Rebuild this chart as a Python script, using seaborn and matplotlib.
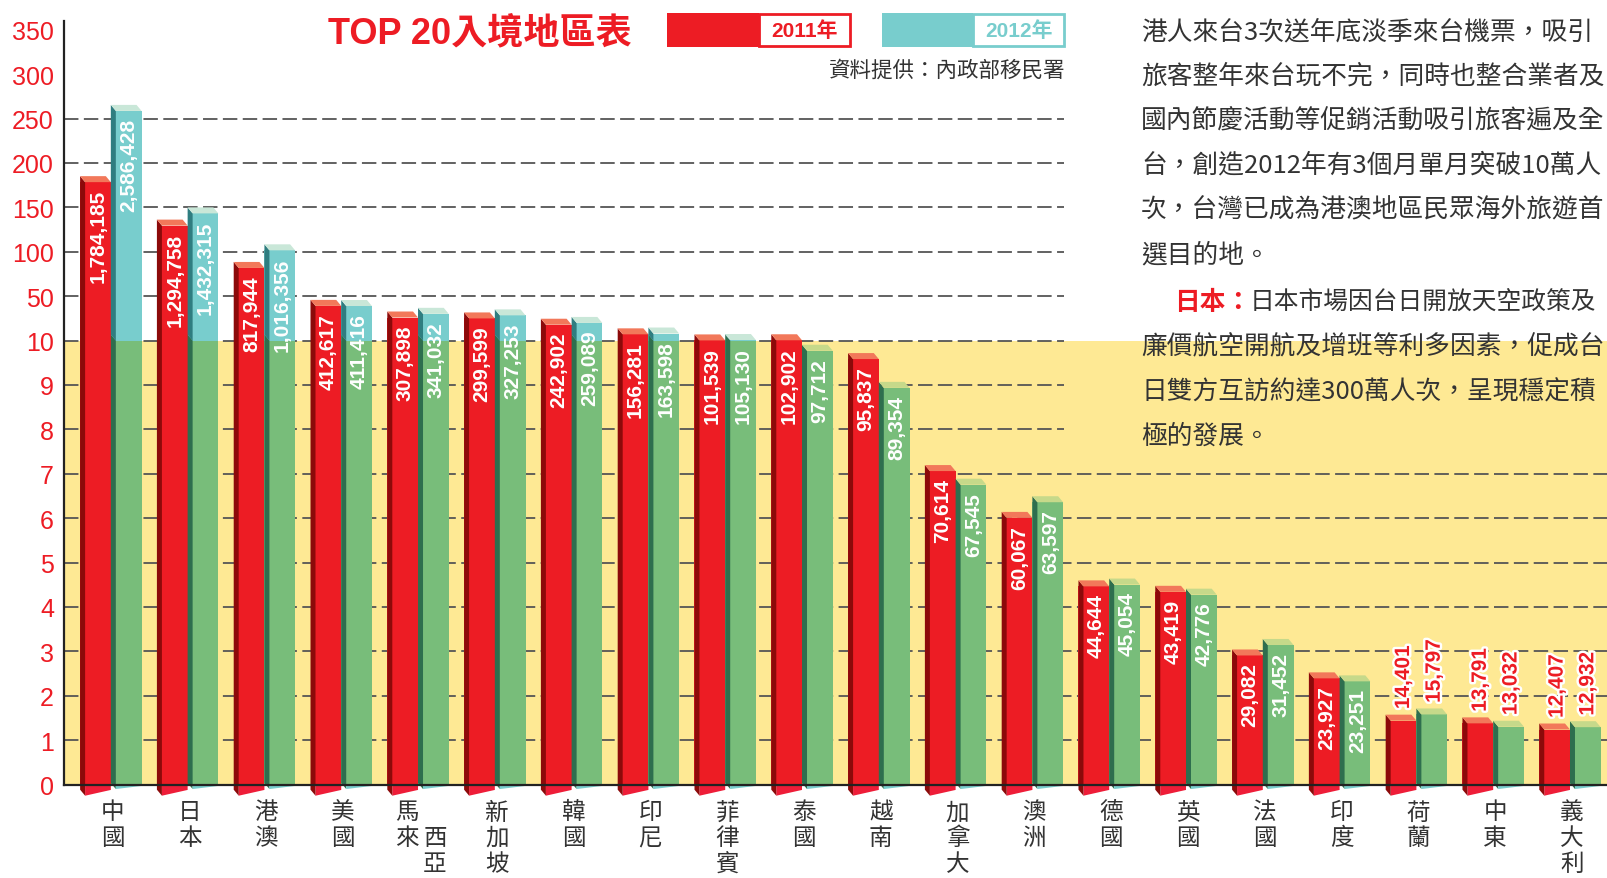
import numpy as np
import pandas as pd
import matplotlib
matplotlib.use("Agg")
import matplotlib.pyplot as plt
import seaborn as sns
from matplotlib.patches import Polygon, Rectangle
from matplotlib.ticker import NullLocator
from matplotlib import transforms as mtransforms
from matplotlib import patheffects as pe
from matplotlib import font_manager as fm

# ---------------- data ----------------
categories = ["中國", "日本", "港澳", "美國", "馬來西亞", "新加坡", "韓國", "印尼", "菲律賓", "泰國",
              "越南", "加拿大", "澳洲", "德國", "英國", "法國", "印度", "荷蘭", "中東", "義大利"]
visitors_2011 = [1784185, 1294758, 817944, 412617, 307898, 299599, 242902, 156281, 101539, 102902,
                 95837, 70614, 60067, 44644, 43419, 29082, 23927, 14401, 13791, 12407]
visitors_2012 = [2586428, 1432315, 1016356, 411416, 341032, 327253, 259089, 163598, 105130, 97712,
                 89354, 67545, 63597, 45054, 42776, 31452, 23251, 15797, 13032, 12932]
years = ["2011年", "2012年"]
ytick_values = [0, 1, 2, 3, 4, 5, 6, 7, 8, 9, 10, 50, 100, 150, 200, 250, 300, 350]
title = "TOP 20入境地區表"
source = "資料提供：內政部移民署"
paragraph = [
    "港人來台3次送年底淡季來台機票，吸引",
    "旅客整年來台玩不完，同時也整合業者及",
    "國內節慶活動等促銷活動吸引旅客遍及全",
    "台，創造2012年有3個月單月突破10萬人",
    "次，台灣已成為港澳地區民眾海外旅遊首",
    "選目的地。",
    None,
    "廉價航空開航及增班等利多因素，促成台",
    "日雙方互訪約達300萬人次，呈現穩定積",
    "極的發展。",
]
highlight_head = "日本："
highlight_rest = "日本市場因台日開放天空政策及"

# ---------------- style ----------------
RED = "#ED1C24"
TEAL = "#78CDCD"
GREEN = "#78BD7A"
YELLOW = "#FEE994"
DARK_RED = "#8C0A0A"
CAP_RED = "#F2785A"
DARK_GREEN = "#2E6E4E"
CAP_GREEN = "#C6D98A"
DARK_TEAL = "#2F7D80"
CAP_TEAL = "#C9E7D8"
TXT = "#333333"

sns.set_theme(style="white")
plt.rcParams["font.family"] = ["Noto Sans CJK TC", "DejaVu Sans"]
names = {f.name for f in fm.fontManager.ttflist}
NUM_FONT = "Liberation Sans Narrow" if "Liberation Sans Narrow" in names else "Liberation Sans"
LAT = ["Liberation Sans", "Noto Sans CJK TC"]

W, H = 1608, 879
fig = plt.figure(figsize=(W / 100, H / 100), dpi=100)
y0_px, ytop_px, x_left_px = 785.6, 21.9, 63.6
ax = fig.add_axes([x_left_px / W, (H - y0_px) / H, (W - x_left_px) / W, (y0_px - ytop_px) / H])


def fwd(v):
    v = np.asarray(v, dtype=float)
    return np.where(v <= 10, v, np.where(v <= 50, 10 + (v - 10) / 40.0, 11 + (v - 50) / 50.0))


def inv(t):
    t = np.asarray(t, dtype=float)
    return np.where(t <= 10, t, np.where(t <= 11, 10 + (t - 10) * 40.0, 50 + (t - 11) * 50.0))


df = pd.DataFrame({
    "region": categories * 2,
    "year": [years[0]] * len(categories) + [years[1]] * len(categories),
    "value": np.array(visitors_2011 + visitors_2012, dtype=float) / 10000.0,
})

ax.axhspan(0, 10, color=YELLOW, zorder=0, lw=0)

sns.barplot(data=df, x="region", y="value", hue="year", order=categories, hue_order=years,
            palette={years[0]: RED, years[1]: TEAL}, width=0.8, saturation=1, legend=False,
            ax=ax, linewidth=0, zorder=3)

ax.set_yscale("function", functions=(fwd, inv))
ax.set_ylim(0, 360)
ax.set_xlim(-0.615, 19.495)

PX_X = 76.8
PX_T = 44.4
s = 5.0 / PX_X
d = 6.0 / PX_T

raw_by_year = [visitors_2011, visitors_2012]
for k, cont in enumerate(ax.containers[:2]):
    for i, p in enumerate(cont.patches):
        x0 = p.get_x(); w = p.get_width(); h = p.get_height(); x1 = x0 + w
        t = float(fwd(h))
        top_back = float(inv(t + d))
        if k == 0:
            cap = CAP_RED
            ax.add_patch(Polygon([(x0 + s, 0), (x1, 0), (x1, -0.12), (x0 + s, -0.25)],
                                 closed=True, fc="#EE1D38", ec="none", zorder=4, clip_on=False))
            ax.add_patch(Polygon([(x0, -0.115), (x0 + s, -0.25), (x0 + s, h), (x0, top_back)],
                                 closed=True, fc=DARK_RED, ec="none", zorder=4, clip_on=False))
        else:
            if h > 10:
                ax.bar(x0 + w / 2, 10, width=w, color=GREEN, linewidth=0, zorder=3)
                ax.add_patch(Polygon([(x0, 0.035), (x0 + s, -0.1), (x0 + s, 10), (x0, float(inv(10 + d)))],
                                     closed=True, fc=DARK_GREEN, ec="none", zorder=4, clip_on=False))
                ax.add_patch(Polygon([(x0, float(inv(10 + d))), (x0 + s, 10), (x0 + s, h), (x0, top_back)],
                                     closed=True, fc=DARK_TEAL, ec="none", zorder=4, clip_on=False))
                cap = CAP_TEAL
            else:
                p.set_facecolor(GREEN)
                ax.add_patch(Polygon([(x0, 0.035), (x0 + s, -0.1), (x0 + s, h), (x0, top_back)],
                                     closed=True, fc=DARK_GREEN, ec="none", zorder=4, clip_on=False))
                cap = CAP_GREEN
            ax.add_patch(Polygon([(x0 + s, 0), (x1, 0), (x1, -0.03), (x0 + s, -0.1)],
                                 closed=True, fc=TEAL, ec="none", zorder=4, clip_on=False))
        ax.add_patch(Polygon([(x0 + s, h), (x1, h), (x1 - s, top_back), (x0, top_back)],
                             closed=True, fc=cap, ec="none", zorder=4, clip_on=False))

        label = f"{raw_by_year[k][i]:,}"
        xc = (x0 + s + x1) / 2
        if h >= 2:
            ax.annotate(label, xy=(xc, h), xytext=(0, -5), textcoords="offset points",
                        rotation=90, ha="center", va="top", color="white", fontsize=15,
                        fontweight="bold", family="Liberation Sans", zorder=6)
        else:
            ax.annotate(label, xy=(xc, top_back), xytext=(0, 4), textcoords="offset points",
                        rotation=90, ha="center", va="bottom", color=RED, fontsize=15,
                        fontweight="bold", family="Liberation Sans", zorder=6,
                        path_effects=[pe.withStroke(linewidth=3.5, foreground="white")])

# grid lines
frac_upper = (1064 - x_left_px) / (W - x_left_px)
for yv in ytick_values[1:8]:
    ax.axhline(yv, color="#555555", lw=1.3, ls=(0, (8, 3)), zorder=1)
for yv in [8, 9, 10, 50, 100, 150, 200, 250]:
    ax.axhline(yv, xmax=frac_upper, color="#555555", lw=1.3, ls=(0, (8, 3)), zorder=1)

ax.set_yticks(ytick_values)
ax.set_yticklabels([str(v) for v in ytick_values])
ax.yaxis.set_minor_locator(NullLocator())
ax.tick_params(axis="y", length=0, pad=7, labelcolor=RED, labelsize=18)
for lab in ax.get_yticklabels():
    lab.set_family(NUM_FONT)
ax.set_xticks([])
ax.set_xlabel("")
ax.set_ylabel("")
for side_name in ["top", "right"]:
    ax.spines[side_name].set_visible(False)
for side_name in ["left", "bottom"]:
    ax.spines[side_name].set_color("#222222")
    ax.spines[side_name].set_linewidth(1.6)
    ax.spines[side_name].set_zorder(5)

# category labels (vertical, stacked characters)
blend = mtransforms.blended_transform_factory(ax.transData, fig.transFigure)
row0, row_h = 813.0, 25.6
for i, name in enumerate(categories):
    if len(name) == 4:
        cols = [(name[:2], -11.0, 0), (name[2:], 17.0, 1)]
    else:
        cols = [(name, 2.0, 0)]
    for chars, dx, r0 in cols:
        for r, ch in enumerate(chars):
            ax.text(i + dx / PX_X, 1 - (row0 + (r0 + r) * row_h) / H, ch, transform=blend,
                    ha="center", va="center", fontsize=17, color=TXT, clip_on=False)

# title, legend, source
fig.text(480 / W, 1 - 34 / H, title, color=RED, fontsize=26, fontweight="bold",
         ha="center", va="center", family=LAT)
for (xa, xb, xe, col, lab) in [(667, 759, 851, RED, years[0]), (881.7, 973, 1065, TEAL, years[1])]:
    fig.add_artist(Rectangle((xa / W, 1 - 47.7 / H), (xb - xa) / W, 33.7 / H,
                             transform=fig.transFigure, fc=col, ec="none"))
    fig.add_artist(Rectangle((xb / W, 1 - 46.7 / H), (xe - 1 - xb) / W, 31.7 / H,
                             transform=fig.transFigure, fc="white", ec=col, lw=2))
    fig.text((xb + xe) / 2 / W, 1 - 31 / H, lab, color=col, fontsize=15, fontweight="bold",
             ha="center", va="center", family=LAT)
fig.text(1065 / W, 1 - 71 / H, source, color=TXT, fontsize=15.5, ha="right", va="center")

# paragraph
line_y = [32.8, 76.9, 121, 165, 210, 255, 302.5, 347.6, 392.8, 436.9]
for ln, yv in zip(paragraph, line_y):
    if ln is None:
        fig.text(1174 / W, 1 - yv / H, highlight_head, color=RED, fontsize=18.5,
                 fontweight="bold", ha="left", va="center")
        fig.text(1250 / W, 1 - yv / H, highlight_rest, color=TXT, fontsize=17.8,
                 ha="left", va="center")
    else:
        fig.text(1141 / W, 1 - yv / H, ln, color=TXT, fontsize=18.5, ha="left", va="center")

fig.savefig("out.png", dpi=100)
